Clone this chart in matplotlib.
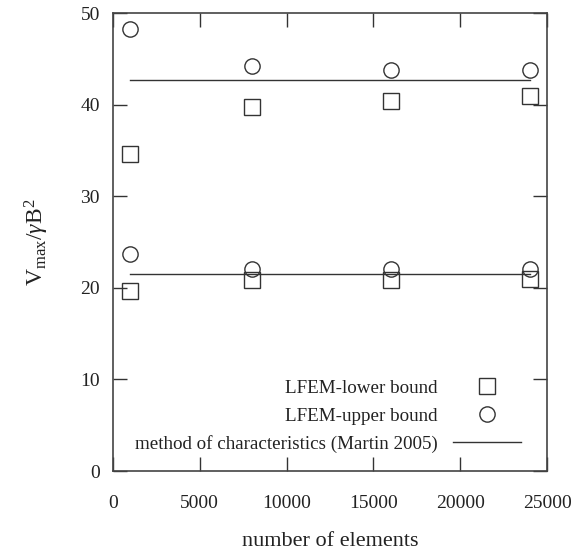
import matplotlib
matplotlib.use("Agg")
import matplotlib.pyplot as plt
from matplotlib.lines import Line2D

plt.rcParams['font.family'] = ['Liberation Serif', 'DejaVu Serif']
plt.rcParams['mathtext.fontset'] = 'custom'
plt.rcParams['mathtext.rm'] = 'Liberation Serif'
plt.rcParams['mathtext.it'] = 'Liberation Serif:italic'

# Data
elements = [1000, 8000, 16000, 24000]
upper_case_lower = [34.6, 39.7, 40.4, 40.9]
upper_case_upper = [48.2, 44.2, 43.8, 43.8]
upper_case_moc = 42.7
lower_case_lower = [19.6, 20.8, 20.8, 21.0]
lower_case_upper = [23.7, 22.1, 22.1, 22.1]
lower_case_moc = 21.5
moc_x = [1000, 24000]
xticks = [0, 5000, 10000, 15000, 20000, 25000]
yticks = [0, 10, 20, 30, 40, 50]

c = '#333333'
fig = plt.figure(figsize=(5.81, 5.54), dpi=100)
ax = fig.add_axes([113/581, 1-471/554, (547-113)/581, (471-13)/554])

ms = 11
ax.plot(elements, upper_case_lower, 's', ms=ms, mfc='none', mec=c, mew=1.0)
ax.plot(elements, lower_case_lower, 's', ms=ms, mfc='none', mec=c, mew=1.0)
ax.plot(elements, upper_case_upper, 'o', ms=ms, mfc='none', mec=c, mew=1.0)
ax.plot(elements, lower_case_upper, 'o', ms=ms, mfc='none', mec=c, mew=1.0)
ax.plot(moc_x, [upper_case_moc]*2, '-', color=c, lw=1.0)
ax.plot(moc_x, [lower_case_moc]*2, '-', color=c, lw=1.0)

ax.set_xlim(0, 25000)
ax.set_ylim(0, 50)
ax.set_xticks(xticks)
ax.set_yticks(yticks)
ax.tick_params(direction='in', top=True, right=True, length=10, width=1.0,
               colors=c, labelsize=14, labelcolor='#222222')
ax.tick_params(axis='x', pad=17)
ax.tick_params(axis='y', pad=9.5)
for s in ax.spines.values():
    s.set_color('#444444')
    s.set_linewidth(1.2)

ax.set_xlabel('number of elements', fontsize=16, color='#222222')
ax.xaxis.set_label_coords(0.5, -(541 - 471) / 458)
ax.xaxis.label.set_va('center')
ax.set_ylabel(r'V$_{\rm max}$/$\gamma$B$^{2}$', fontsize=17, color='#222222')
ax.yaxis.set_label_coords(-(113 - 37) / 434, 0.5)
ax.yaxis.label.set_va('center')

handles = [
    Line2D([], [], ls='none', marker='s', ms=ms, mfc='none', mec=c, mew=1.0),
    Line2D([], [], ls='none', marker='o', ms=ms, mfc='none', mec=c, mew=1.0),
    Line2D([], [], ls='-', color=c, lw=1.0),
]
labels = ['LFEM-lower bound', 'LFEM-upper bound', 'method of characteristics (Martin 2005)']
leg = ax.legend(handles, labels, loc='lower right', bbox_to_anchor=(0.979, 0.002),
                markerfirst=False, frameon=False, fontsize=13.7, handlelength=3.55,
                labelspacing=0.55, handletextpad=0.8)
for t in leg.get_texts():
    t.set_color('#222222')

fig.savefig('out.png', dpi=100)
